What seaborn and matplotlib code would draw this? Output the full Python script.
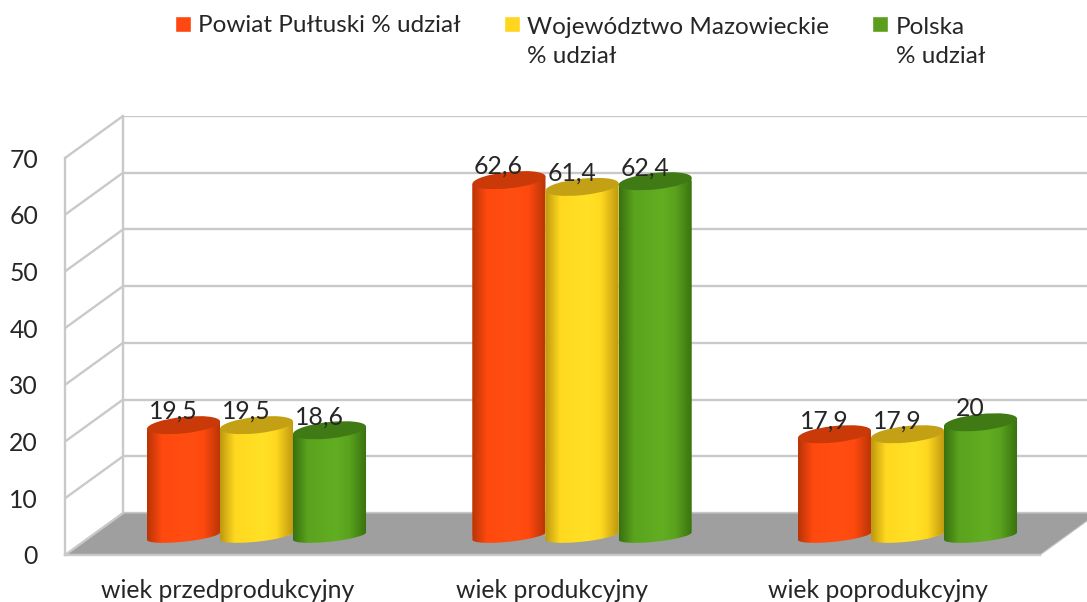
import numpy as np
import pandas as pd
import matplotlib
matplotlib.use("Agg")
import matplotlib.pyplot as plt
from matplotlib.colors import LinearSegmentedColormap
from matplotlib.lines import Line2D
from matplotlib.patches import Ellipse, Polygon
from matplotlib.path import Path
from matplotlib.transforms import IdentityTransform
import seaborn as sns

categories = ["wiek przedprodukcyjny", "wiek produkcyjny", "wiek poprodukcyjny"]
series_names = ["Powiat Pułtuski % udział", "Województwo Mazowieckie\n% udział", "Polska\n% udział"]
powiat = [19.5, 62.6, 17.9]
mazowieckie = [19.5, 61.4, 17.9]
polska = [18.6, 62.4, 20]
y_ticks = [0, 10, 20, 30, 40, 50, 60, 70]

legend_colors = ["#FF4712", "#FFD51E", "#5A9E1C"]
shades = [
    ("#B83406", "#FF490F", "#FF4E12", "#C93A08"),
    ("#BE980F", "#FFD81F", "#FFE126", "#C4A015"),
    ("#38700F", "#5AA31E", "#62AE22", "#3F7A14"),
]
GRID = "#C9C9C9"
INK = "#262626"
FS = 17.8
LEG_FS = 17.5

sns.set_theme(style="white")
plt.rcParams["font.family"] = ["Lato", "DejaVu Sans"]

W, H = 1087, 602
fig = plt.figure(figsize=(W / 100, H / 100), dpi=100)


def px_axes(left, top, right, bottom, **kw):
    return fig.add_axes([left / W, 1 - bottom / H, (right - left) / W, (bottom - top) / H], **kw)


# back wall
back = px_axes(123, 116, 1098, 513, zorder=0)
back.set_xlim(0, 1)
back.set_ylim(0, 70)
back.set_yticks(y_ticks)
back.set_xticks([])
back.set_yticklabels([])
back.grid(axis="y", color=GRID, lw=1.7)
for s in back.spines.values():
    s.set_visible(False)
back.spines["left"].set_visible(True)
back.spines["left"].set_color(GRID)
back.spines["left"].set_linewidth(1.7)
back.patch.set_alpha(0)
back.tick_params(length=0)

# front frame: value and category axes
front = px_axes(65, 158, 1040, 555, zorder=1)
front.set_xlim(-0.5, 2.5)
front.set_ylim(0, 70)
front.set_yticks(y_ticks)
front.set_xticks(range(len(categories)))
front.set_xticklabels(categories)
front.tick_params(axis="y", length=0, pad=19.4, labelsize=FS, labelcolor=INK)
front.tick_params(axis="x", length=0, pad=17, labelsize=FS, labelcolor=INK)
front.patch.set_alpha(0)
for side in ["top", "right"]:
    front.spines[side].set_visible(False)
for side in ["left", "bottom"]:
    front.spines[side].set_color(GRID)
    front.spines[side].set_linewidth(1.7)

# side wall and floor, tied to the two planes
for v in y_ticks:
    p0 = front.transData.transform((-0.5, v))
    p1 = back.transData.transform((0, v))
    fig.add_artist(Line2D([p0[0], p1[0]], [p0[1], p1[1]], color=GRID, lw=1.7,
                          transform=IdentityTransform()))
corners = [front.transData.transform((-0.5, 0)), back.transData.transform((0, 0)),
           back.transData.transform((1, 0)), front.transData.transform((2.5, 0))]
front.add_patch(Polygon(corners, closed=True, transform=IdentityTransform(),
                        facecolor="#9F9F9F", edgecolor="#C4C4C4", lw=0.8, clip_on=False, zorder=1))

# bars: the axes reach below zero so the rounded cylinder bases stay inside
Y_LOW = -5
bars_ax = px_axes(93.75, 138, 1070.25, 536 + 5 * 398 / 70, zorder=2)
df = pd.DataFrame({
    "kategoria": categories * 3,
    "seria": np.repeat(series_names, len(categories)),
    "wartosc": powiat + mazowieckie + polska,
})
sns.barplot(data=df, x="kategoria", y="wartosc", hue="seria", hue_order=series_names,
            palette=legend_colors, width=0.673, gap=0, saturation=1, ax=bars_ax, errorbar=None)
bars_ax.set_xlim(-0.5, 2.5)
bars_ax.set_ylim(Y_LOW, 70)
bars_ax.set_axis_off()
bars_ax.patch.set_alpha(0)
handles = bars_ax.get_legend().legend_handles
labels = [t.get_text() for t in bars_ax.get_legend().get_texts()]
bars_ax.get_legend().remove()

ANGLE = 6.0
TOP_B, BOT_B = 8.2, 5.7


def ell_pts(cx, cy, a, b, t):
    th = np.deg2rad(ANGLE)
    x, y = a * np.cos(t), b * np.sin(t)
    return np.column_stack([cx + x * np.cos(th) - y * np.sin(th), cy + x * np.sin(th) + y * np.cos(th)])


for i, cont in enumerate(bars_ax.containers):
    dark, base, bright, topc = shades[i]
    cmap = LinearSegmentedColormap.from_list(
        f"cyl{i}", [(0, dark), (0.2, base), (0.58, bright), (0.76, base), (1, dark)])
    z = 3 + i
    for bar in cont:
        x0, w, h = bar.get_x(), bar.get_width(), bar.get_height()
        (xa, ya), (xb, yb) = bars_ax.transData.transform([(x0, 0), (x0 + w, h)])
        cx, a = (xa + xb) / 2, (xb - xa) / 2 / np.cos(np.deg2rad(ANGLE))
        ends_top = ell_pts(cx, yb, a, TOP_B, np.array([np.pi, 0]))
        arc = ell_pts(cx, ya, a, BOT_B, np.linspace(0, -np.pi, 60))
        outline = np.vstack([ends_top, arc, ends_top[:1]])
        clip = Path(outline, closed=True)
        bar.set_edgecolor("none")
        bar.set_clip_path(clip, IdentityTransform())
        bar.set_zorder(z)
        im = bars_ax.imshow(np.linspace(0, 1, 256)[None, :], cmap=cmap, aspect="auto",
                            extent=(x0, x0 + w, Y_LOW, h + 3), interpolation="bilinear", zorder=z)
        im.set_clip_path(clip, IdentityTransform())
        bars_ax.add_patch(Ellipse((cx, yb), 2 * a, 2 * TOP_B, angle=ANGLE, facecolor=topc,
                                  edgecolor="none", transform=IdentityTransform(),
                                  clip_on=False, zorder=z + 0.5))
    anns = bars_ax.bar_label(cont, labels=[f"{b.get_height():g}".replace(".", ",") for b in cont],
                             padding=1.5, fontsize=FS, color=INK, zorder=20)
    for ann in anns:
        ann.xyann = (-7.5, ann.xyann[1])
bars_ax.set_xlim(-0.5, 2.5)
bars_ax.set_ylim(Y_LOW, 70)

# legend
leg = fig.legend(handles, labels, loc="upper left", bbox_to_anchor=(175 / W, 1 - 17 / H),
                 ncol=3, frameon=False, fontsize=LEG_FS, borderpad=0, borderaxespad=0,
                 handlelength=0.66, handleheight=0.66, handletextpad=0.3, columnspacing=1.77,
                 labelcolor=INK)
for t in leg.get_texts():
    t.set_linespacing(1.45)
for h in leg.legend_handles:
    h.set_y(h.get_y() + 18 * 72 / 100)
leg.get_texts()[0].set_y(25 * 72 / 100)

fig.savefig("out.png", dpi=100)
